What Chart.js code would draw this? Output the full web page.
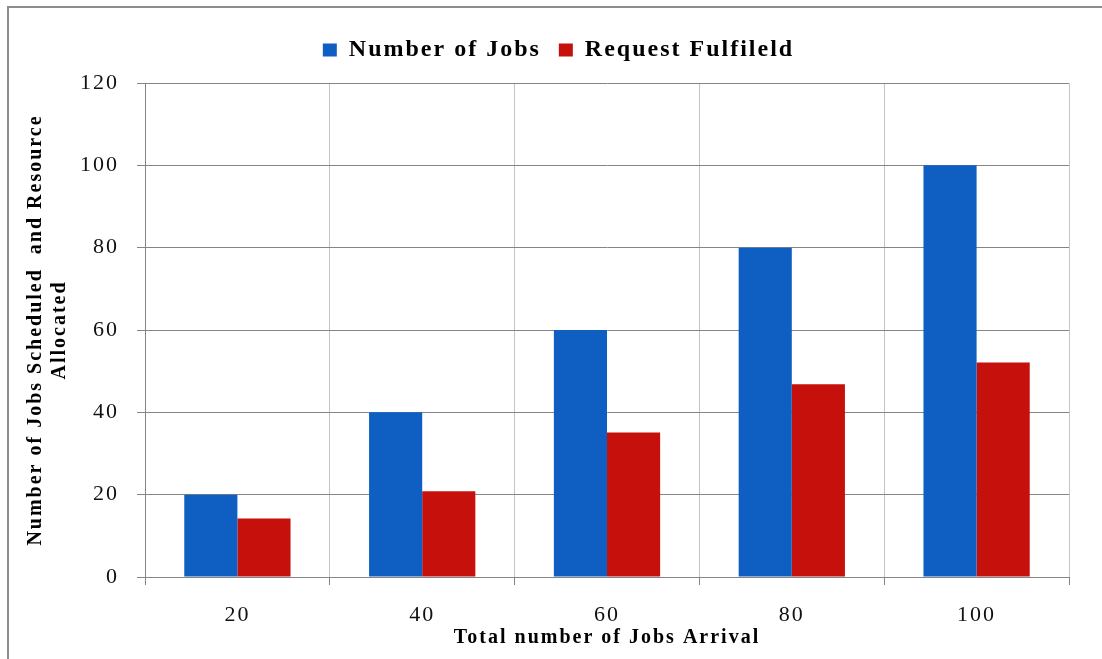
<!DOCTYPE html>
<html>
<head>
<meta charset="utf-8">
<title>Jobs scheduled and requests fulfilled</title>
<script src="https://cdn.jsdelivr.net/npm/chart.js@4.4.1/dist/chart.umd.min.js"></script>
<style>
  html, body { margin: 0; padding: 0; background: #ffffff; overflow: hidden; }
  canvas { display: block; }
</style>
</head>
<body>
<canvas id="chart" width="1102" height="659"></canvas>
<script>
// Chart data
const categories = ['20', '40', '60', '80', '100'];
const numberOfJobs = [20, 40, 60, 80, 100];
const requestFulfilled = [14.2, 20.8, 35.1, 46.8, 52.1];
const yTicks = [0, 20, 40, 60, 80, 100, 120];
const seriesNames = ['Number of Jobs', 'Request Fulfileld'];
const xTitle = 'Total number of Jobs Arrival';
const yTitle = ['Number of Jobs Scheduled  and Resource', 'Allocated'];

const SERIF = "'Liberation Serif', 'Times New Roman', serif";
const LETTER_SPACING = '2px';
const AXIS_GREY = '#858585';
const LIGHT_GREY = '#c4c4c4';

// Wide-set lettering, legend placement and the thin frame along the top and left edges
const framePlugin = {
  id: 'frame',
  afterInit(chart) {
    // fixed band for the legend above the plot
    const lg = chart.legend;
    if (lg) {
      const fit = lg.fit;
      lg.fit = function () { fit.call(this); this.height = 63; };
    }
  },
  beforeUpdate(chart) { chart.ctx.letterSpacing = LETTER_SPACING; },
  beforeLayout(chart) { chart.ctx.letterSpacing = LETTER_SPACING; },
  afterLayout(chart) {
    // centre the legend over the plot area rather than the whole canvas
    const lg = chart.legend;
    if (lg) { lg.left += 19; lg.right += 19; }
  },
  beforeDraw(chart) {
    const ctx = chart.ctx;
    ctx.save();
    ctx.fillStyle = '#ffffff';
    ctx.fillRect(0, 0, chart.width, chart.height);
    ctx.strokeStyle = '#8c8c8c';
    ctx.lineWidth = 2;
    ctx.beginPath();
    ctx.moveTo(8, chart.height);
    ctx.lineTo(8, 7);
    ctx.lineTo(chart.width, 7);
    ctx.stroke();
    ctx.restore();
    ctx.letterSpacing = LETTER_SPACING;
  }
};

new Chart(document.getElementById('chart'), {
  type: 'bar',
  data: {
    labels: categories,
    datasets: [
      { label: seriesNames[0], data: numberOfJobs, backgroundColor: '#0f5fc3', borderWidth: 0 },
      { label: seriesNames[1], data: requestFulfilled, backgroundColor: '#c6100b', borderWidth: 0 }
    ]
  },
  options: {
    responsive: false,
    animation: false,
    devicePixelRatio: 1,
    layout: { padding: { left: 10, right: 33, top: 20, bottom: 0 } },
    datasets: { bar: { categoryPercentage: 0.575, barPercentage: 1.0 } },
    plugins: {
      legend: {
        position: 'top',
        labels: {
          font: { family: SERIF, size: 24, weight: 'bold' },
          color: '#000000',
          boxWidth: 14,
          boxHeight: 13,
          padding: 18
        }
      },
      tooltip: { enabled: false }
    },
    scales: {
      x: {
        grid: { color: LIGHT_GREY, lineWidth: 1, tickColor: AXIS_GREY, tickLength: 8, offset: true },
        border: { color: AXIS_GREY, width: 1 },
        ticks: { font: { family: SERIF, size: 22 }, color: '#111111', padding: 17 },
        title: {
          display: true,
          text: xTitle,
          font: { family: SERIF, size: 20, weight: 'bold' },
          color: '#000000',
          padding: { top: 0, bottom: 9 }
        },
        afterFit(scale) { scale.height = 82; }
      },
      y: {
        min: 0,
        max: 120,
        afterBuildTicks(scale) { scale.ticks = yTicks.map(v => ({ value: v })); },
        grid: { color: AXIS_GREY, lineWidth: 1, tickColor: AXIS_GREY, tickLength: 8 },
        border: { color: AXIS_GREY, width: 1 },
        ticks: { font: { family: SERIF, size: 22 }, color: '#111111', padding: 18 },
        title: {
          display: true,
          text: yTitle,
          font: { family: SERIF, size: 20, weight: 'bold', lineHeight: 1.2 },
          color: '#000000',
          padding: { top: 14, bottom: 0 }
        },
        afterFit(scale) { scale.width = 135; }
      }
    }
  },
  plugins: [framePlugin]
});
</script>
</body>
</html>
